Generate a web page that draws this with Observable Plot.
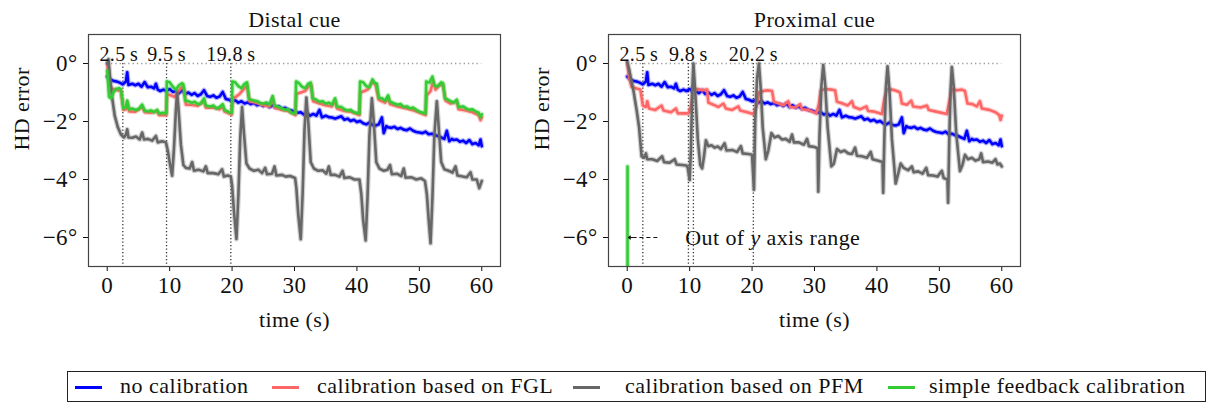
<!DOCTYPE html>
<html>
<head>
<meta charset="utf-8">
<script src="https://cdn.jsdelivr.net/npm/d3@7"></script>
<script src="https://cdn.jsdelivr.net/npm/@observablehq/plot@0.6"></script>
<style>
  html, body { margin: 0; padding: 0; background: #fff; }
  body { width: 1209px; height: 405px; position: relative; overflow: hidden; font-family: "Liberation Serif", "DejaVu Serif", serif; }
  .panel { position: absolute; top: 0; }
  #legend { position: absolute; left: 67px; top: 371px; width: 1139px; height: 31px; border: 1px solid #222; box-sizing: border-box; font-size: 22px; letter-spacing: 0.5px; color: #111; }
  .sw { position: absolute; top: 14px; width: 27px; height: 3px; }
  .lt { position: absolute; top: 1px; line-height: 26px; white-space: nowrap; }
</style>
</head>
<body>
<div class="panel" id="c1" style="left:0"></div>
<div class="panel" id="c2" style="left:520px"></div>
<div id="legend"></div>
<script>
// ---------- data ----------
const seriesNames = ["no calibration", "calibration based on FGL", "calibration based on PFM", "simple feedback calibration"];
const seriesColors = ["#0000ff", "#ff6666", "#676767", "#33cc33"];
const panelTitles = ["Distal cue", "Proximal cue"];
const xTicks = [0, 10, 20, 30, 40, 50, 60];
const yTicks = [0, -2, -4, -6];
const distalEvents = [2.5, 9.5, 19.8];
const distalEventLabels = ["2.5\u2009s", "9.5\u2009s", "19.8\u2009s"];
const proximalEvents = [2.5, 9.8, 10.6, 20.2];
const proximalLabelEvents = [2.5, 9.8, 20.2];
const proximalEventLabels = ["2.5\u2009s", "9.8\u2009s", "20.2\u2009s"];
const annotationText = "Out of y axis range";

// no calibration (same in both panels): [time s, HD error deg]
const noCalib = [[0,-0.45],[0.5,-0.55],[1,-0.6],[1.5,-0.62],[2,-0.66],[2.5,-0.72],[3,-0.62],[3.2,-0.3],[3.4,-0.74],[4,-0.7],[4.5,-0.75],[5,-0.7],[5.5,-0.8],[6,-0.64],[6.5,-0.82],[7,-0.8],[7.5,-0.86],[7.8,-0.7],[8.1,-0.9],[8.5,-0.95],[9,-0.9],[9.5,-0.95],[10,-0.88],[10.5,-0.98],[11,-0.95],[11.5,-1.02],[12,-0.92],[12.5,-1.05],[13,-1.0],[13.5,-1.08],[14,-1.02],[14.5,-1.12],[15,-1.06],[15.5,-0.92],[16,-1.12],[16.5,-1.15],[17,-1.1],[17.5,-1.18],[18,-1.14],[18.5,-0.98],[19,-1.22],[19.5,-1.25],[20,-1.3],[20.5,-1.27],[21,-1.35],[21.5,-1.3],[22,-1.38],[22.5,-1.34],[23,-1.4],[23.5,-1.36],[24,-1.44],[24.5,-1.4],[25,-1.46],[25.5,-1.38],[26,-1.5],[26.5,-1.44],[27,-1.52],[27.5,-1.48],[28,-1.56],[28.5,-1.53],[29,-1.6],[29.5,-1.62],[30,-1.66],[30.5,-1.7],[31,-1.68],[31.5,-1.76],[32,-1.72],[32.5,-1.8],[33,-1.74],[33.5,-1.8],[34,-1.6],[34.4,-1.86],[35,-1.8],[35.5,-1.85],[36,-1.86],[36.5,-1.9],[37,-1.86],[37.5,-1.82],[38,-1.94],[38.5,-1.9],[39,-1.98],[39.5,-1.94],[40,-2.02],[40.5,-1.98],[41,-2.06],[41.5,-2.1],[42,-2.04],[42.5,-2.12],[43,-2.14],[43.5,-2.1],[44,-1.86],[44.3,-2.4],[44.7,-2.16],[45,-2.2],[45.5,-2.22],[46,-2.18],[46.5,-2.26],[47,-2.22],[47.5,-2.28],[48,-2.3],[48.5,-2.24],[49,-2.32],[49.5,-2.36],[50,-2.38],[50.5,-2.4],[51,-2.35],[51.5,-2.44],[52,-2.42],[52.5,-2.47],[53,-2.5],[53.5,-2.55],[54,-2.6],[54.4,-2.32],[54.8,-2.68],[55.2,-2.6],[55.5,-2.64],[56,-2.62],[56.5,-2.7],[57,-2.66],[57.5,-2.74],[58,-2.64],[58.5,-2.78],[59,-2.74],[59.5,-2.82],[59.8,-2.62],[60,-2.85]];

// Distal cue
const fglDistal = [[0,0.0],[0.3,-0.6],[0.6,-0.85],[1.2,-0.9],[2.2,-0.95],[2.6,-1.6],[3.0,-1.58],[3.2,-1.35],[3.5,-1.65],[4.5,-1.66],[5.6,-1.5],[6,-1.68],[7,-1.7],[8,-1.65],[8.3,-1.78],[9.45,-1.78],[9.6,-1.05],[10.2,-1.1],[10.8,-1.15],[11.4,-0.95],[12.0,-0.8],[12.3,-0.85],[12.6,-1.42],[13.5,-1.42],[14.5,-1.46],[15.5,-1.3],[15.8,-1.52],[17,-1.52],[18,-1.58],[18.5,-1.48],[18.8,-1.66],[19.95,-1.76],[20.1,-1.2],[20.6,-1.15],[21.2,-1.05],[21.8,-0.9],[22.4,-0.75],[22.8,-1.3],[24,-1.36],[25,-1.44],[26,-1.48],[26.5,-1.2],[26.8,-1.52],[28,-1.6],[29,-1.64],[30.15,-1.78],[30.3,-1.05],[31,-1.0],[31.7,-0.95],[32.3,-0.78],[32.7,-0.75],[33.0,-1.3],[34,-1.38],[35,-1.44],[36,-1.48],[36.5,-1.28],[36.8,-1.55],[38,-1.64],[39,-1.66],[40.4,-1.78],[40.55,-1.0],[41.2,-0.95],[41.8,-0.88],[42.5,-0.62],[43.0,-0.75],[43.5,-1.25],[44.5,-1.35],[45,-1.2],[45.3,-1.4],[46.5,-1.48],[48,-1.55],[49.5,-1.65],[51,-1.78],[51.15,-1.1],[51.8,-0.95],[52.2,-0.6],[52.6,-0.9],[53.2,-0.75],[53.8,-0.75],[54.2,-1.28],[55,-1.38],[56,-1.32],[56.3,-1.58],[57.5,-1.62],[58.5,-1.68],[59.5,-1.78],[59.8,-1.95],[60,-1.85]];
const pfmDistal = [[0,0.0],[0.2,0.15],[0.5,-0.6],[0.8,-1.2],[1.2,-1.8],[1.7,-2.2],[2.2,-2.45],[2.7,-2.55],[3.0,-2.45],[3.2,-2.27],[3.4,-2.55],[4,-2.56],[4.6,-2.52],[5.2,-2.62],[5.6,-2.38],[5.9,-2.62],[6.5,-2.6],[7.2,-2.66],[7.8,-2.5],[8.1,-2.72],[8.8,-2.68],[9.4,-2.72],[9.7,-3.0],[10.0,-3.4],[10.4,-3.87],[10.7,-2.9],[11.0,-1.6],[11.2,-1.0],[11.4,-1.5],[11.8,-2.8],[12.2,-3.5],[12.6,-3.6],[13.2,-3.62],[13.6,-3.4],[13.9,-3.7],[14.6,-3.66],[15.4,-3.72],[15.8,-3.55],[16.1,-3.78],[17,-3.78],[17.8,-3.82],[18.4,-3.65],[18.7,-3.9],[19.3,-3.86],[19.8,-3.9],[20.0,-4.2],[20.3,-5.1],[20.7,-6.05],[21.0,-4.6],[21.3,-2.6],[21.6,-1.5],[21.9,-2.4],[22.3,-3.45],[22.8,-3.62],[23.5,-3.7],[24.2,-3.66],[24.8,-3.78],[25.3,-3.6],[25.6,-3.82],[26.4,-3.8],[26.8,-3.55],[27.1,-3.86],[28,-3.84],[28.6,-3.9],[29.3,-3.88],[30.1,-3.95],[30.3,-4.3],[30.6,-5.2],[31.0,-6.06],[31.3,-4.5],[31.6,-2.3],[31.9,-1.17],[32.2,-2.0],[32.6,-3.4],[33.1,-3.62],[33.8,-3.7],[34.5,-3.68],[35.1,-3.8],[35.5,-3.55],[35.8,-3.84],[36.5,-3.84],[37.2,-3.9],[37.7,-3.7],[38,-3.95],[38.8,-3.92],[39.6,-4.0],[40.4,-4.0],[40.7,-4.5],[41.0,-5.4],[41.4,-6.1],[41.7,-4.6],[42.0,-2.5],[42.4,-1.2],[42.7,-2.0],[43.1,-3.4],[43.6,-3.62],[44.3,-3.7],[44.9,-3.66],[45.3,-3.5],[45.6,-3.82],[46.4,-3.8],[47.1,-3.88],[47.5,-3.62],[47.8,-3.94],[48.7,-3.92],[49.5,-4.0],[50.3,-3.96],[50.9,-4.05],[51.2,-4.5],[51.5,-5.4],[51.8,-6.2],[52.1,-4.6],[52.4,-2.5],[52.8,-1.3],[53.1,-2.2],[53.5,-3.4],[54.0,-3.65],[54.7,-3.7],[55.3,-3.76],[55.8,-3.55],[56.1,-3.86],[57,-3.9],[57.6,-3.92],[58.2,-3.75],[58.5,-4.0],[59.2,-4.0],[59.6,-4.3],[60,-4.05]];
const feedbackDistal = [[0,-0.25],[0.3,-1.15],[0.6,-1.2],[1.0,-1.0],[1.4,-0.88],[1.9,-0.85],[2.2,-0.9],[2.6,-1.55],[3.0,-1.5],[3.2,-1.28],[3.5,-1.58],[4,-1.55],[4.5,-1.6],[5,-1.58],[5.6,-1.42],[6,-1.62],[6.5,-1.65],[7,-1.62],[7.5,-1.68],[8,-1.6],[8.3,-1.72],[9,-1.7],[9.45,-1.72],[9.55,-0.62],[10,-0.65],[10.5,-0.8],[11,-0.9],[11.5,-0.75],[12,-0.68],[12.2,-0.72],[12.5,-1.28],[13,-1.3],[13.5,-1.35],[14,-1.32],[14.5,-1.4],[15,-1.38],[15.5,-1.2],[15.8,-1.45],[16.5,-1.48],[17,-1.45],[17.5,-1.55],[18,-1.5],[18.5,-1.4],[18.8,-1.6],[19.5,-1.68],[19.95,-1.7],[20.05,-0.62],[20.5,-0.65],[21,-0.78],[21.5,-0.85],[22,-0.7],[22.4,-0.65],[22.7,-1.22],[23.5,-1.28],[24,-1.3],[24.5,-1.36],[25,-1.38],[25.5,-1.35],[26,-1.42],[26.5,-1.12],[26.8,-1.45],[27.5,-1.5],[28,-1.55],[28.5,-1.6],[29,-1.58],[29.5,-1.7],[30.15,-1.72],[30.25,-0.62],[30.7,-0.68],[31.2,-0.8],[31.7,-0.85],[32.2,-0.7],[32.6,-0.66],[32.9,-1.2],[33.5,-1.25],[34,-1.32],[34.5,-1.3],[35,-1.38],[35.5,-1.35],[36,-1.42],[36.5,-1.2],[36.8,-1.48],[37.5,-1.5],[38,-1.58],[38.5,-1.62],[39,-1.6],[39.5,-1.68],[40.4,-1.72],[40.5,-0.62],[41,-0.65],[41.5,-0.78],[42,-0.82],[42.5,-0.55],[42.8,-0.66],[43.2,-0.7],[43.5,-1.18],[44,-1.2],[44.5,-1.28],[45,-1.1],[45.3,-1.32],[46,-1.38],[46.5,-1.42],[47,-1.4],[47.5,-1.5],[48,-1.48],[48.5,-1.55],[49,-1.52],[49.5,-1.6],[50,-1.66],[51,-1.72],[51.1,-0.62],[51.6,-0.66],[52.1,-0.45],[52.4,-0.75],[52.9,-0.8],[53.5,-0.65],[53.8,-0.68],[54.1,-1.2],[54.6,-1.25],[55,-1.3],[55.5,-1.35],[56,-1.25],[56.3,-1.5],[57,-1.48],[57.5,-1.55],[58,-1.6],[58.5,-1.58],[59,-1.65],[59.5,-1.7],[59.8,-1.85],[60,-1.75]];

// Proximal cue
const fglProximal = [[0,0.05],[0.3,-0.5],[0.7,-0.8],[1.5,-0.86],[2.1,-0.9],[2.5,-1.45],[3.0,-1.5],[3.2,-1.3],[3.5,-1.55],[4.5,-1.6],[5.5,-1.45],[5.8,-1.62],[7,-1.68],[7.8,-1.55],[8.1,-1.72],[9.2,-1.72],[9.8,-1.72],[10.2,-1.5],[10.6,-0.95],[11.3,-0.88],[12.0,-0.92],[12.8,-0.9],[13.0,-1.35],[13.8,-1.42],[14.6,-1.5],[15.4,-1.38],[15.8,-1.55],[16.8,-1.6],[17.8,-1.48],[18.1,-1.62],[19.2,-1.68],[20.2,-1.74],[20.7,-1.5],[21.1,-1.0],[21.8,-0.95],[22.5,-0.92],[23.2,-0.95],[23.5,-1.32],[24.3,-1.38],[25,-1.44],[25.8,-1.3],[26.1,-1.5],[27,-1.52],[27.7,-1.4],[28,-1.58],[29,-1.6],[30.3,-1.72],[30.7,-1.4],[31.0,-0.92],[31.8,-0.88],[32.6,-0.9],[33.3,-0.92],[33.6,-1.32],[34.5,-1.38],[35.3,-1.45],[36,-1.3],[36.3,-1.5],[37.3,-1.58],[38.3,-1.48],[38.6,-1.64],[39.6,-1.66],[40.8,-1.74],[41.2,-1.2],[41.6,-0.88],[42.4,-0.9],[43.2,-0.95],[43.7,-1.0],[44.0,-1.38],[44.8,-1.42],[45.5,-1.28],[45.8,-1.48],[47,-1.52],[48,-1.45],[48.3,-1.6],[49.5,-1.66],[51.2,-1.74],[51.6,-1.3],[52.0,-0.88],[52.8,-0.92],[53.6,-0.9],[54.1,-0.95],[54.5,-1.38],[55.3,-1.4],[56,-1.48],[56.5,-1.3],[56.8,-1.55],[58,-1.6],[59,-1.68],[59.6,-1.78],[59.8,-1.95],[60,-1.8]];
const pfmProximal = [[0,0.05],[0.3,-0.2],[1.0,-0.94],[1.5,-1.6],[1.9,-2.2],[2.3,-3.2],[2.7,-3.25],[3.0,-3.1],[3.2,-3.3],[4,-3.3],[4.8,-3.36],[5.6,-3.2],[5.9,-3.4],[6.8,-3.42],[7.6,-3.3],[7.9,-3.48],[8.8,-3.5],[9.5,-3.52],[9.7,-3.6],[10.0,-4.02],[10.2,-3.0],[10.4,-1.0],[10.6,0.0],[10.9,-1.0],[11.3,-2.6],[11.7,-3.5],[12.0,-3.62],[12.3,-3.2],[12.6,-2.65],[13.0,-2.85],[13.5,-2.82],[14.0,-2.9],[14.5,-2.86],[15,-2.95],[15.6,-2.75],[15.9,-3.0],[16.8,-2.98],[17.6,-3.05],[18.2,-2.85],[18.5,-3.1],[19.4,-3.12],[20.0,-3.15],[20.3,-4.35],[20.5,-2.0],[20.8,-0.5],[21.1,0.0],[21.4,-0.9],[21.7,-2.2],[22.2,-3.3],[22.6,-3.0],[23.1,-2.4],[23.6,-2.55],[24.2,-2.5],[24.8,-2.62],[25.4,-2.6],[26,-2.7],[26.4,-2.45],[26.7,-2.72],[27.5,-2.72],[28.3,-2.8],[28.8,-2.6],[29.1,-2.85],[30,-2.88],[30.5,-2.92],[30.6,-4.42],[30.8,-2.5],[31.1,-0.8],[31.4,-0.05],[31.7,-0.7],[32.1,-2.2],[32.7,-3.55],[33.1,-3.45],[33.6,-2.95],[34.2,-3.05],[34.8,-3.0],[35.4,-3.1],[36,-3.12],[36.5,-2.9],[36.8,-3.18],[37.6,-3.2],[38.4,-3.25],[39,-3.05],[39.3,-3.3],[40.2,-3.35],[40.9,-3.4],[41.0,-4.46],[41.2,-2.5],[41.45,-0.8],[41.7,-0.1],[42.0,-0.9],[42.4,-2.6],[43.0,-4.14],[43.4,-3.8],[43.8,-3.45],[44.3,-3.6],[45,-3.68],[45.6,-3.55],[45.9,-3.75],[46.6,-3.72],[47.3,-3.8],[47.9,-3.6],[48.2,-3.85],[49,-3.86],[49.7,-3.9],[50.4,-3.7],[50.7,-3.95],[51.3,-4.0],[51.4,-4.8],[51.6,-2.5],[51.8,-0.9],[52.0,-0.12],[52.3,-0.8],[52.7,-2.4],[53.3,-3.71],[53.7,-3.5],[54.1,-3.15],[54.6,-3.3],[55.2,-3.25],[55.8,-3.35],[56.4,-3.3],[56.7,-3.1],[57,-3.4],[57.8,-3.38],[58.5,-3.42],[59,-3.3],[59.3,-3.48],[59.7,-3.45],[60,-3.55]];
const feedbackProximal = [[0.05,-3.55],[0.06,-40]];

// ---------- drawing ----------
const fmtDeg = d => (d < 0 ? "\u2212" + Math.abs(d) : String(d)) + "\u00b0";

function panel({title, series, events, labelEvents, labels, annotate}) {
  const labelData = labelEvents.map((x, i) => ({x, text: labels[i]}));
  const marks = [
    Plot.ruleY([0], {x1: 0, x2: 60, stroke: "#9a9a9a", strokeWidth: 1.3, strokeDasharray: "1.3,3"}),
    Plot.ruleX(events, {x: d => d, y1: 0, y2: -7, stroke: "#333", strokeWidth: 1.3, strokeDasharray: "1.3,2.2"})
  ];
  series.forEach((data, i) => {
    // soft halo mimicking the noise band, then the core line
    marks.push(Plot.line(data, {x: d => d[0], y: d => d[1], stroke: seriesColors[i], strokeWidth: 5, strokeOpacity: 0.3, strokeLinejoin: "round", clip: true}));
    marks.push(Plot.line(data, {x: d => d[0], y: d => d[1], stroke: seriesColors[i], strokeWidth: 2.6, strokeLinejoin: "round", clip: true}));
  });
  marks.push(
    Plot.text(labelData.slice(0, 1), {x: "x", y: 0, text: "text", lineAnchor: "bottom", dy: -3, dx: -4, fontSize: 20}),
    Plot.text(labelData.slice(1), {x: "x", y: 0, text: "text", lineAnchor: "bottom", dy: -3, fontSize: 20}),
    Plot.frame({stroke: "#444", strokeWidth: 1.2}),
    Plot.text([title], {frameAnchor: "top", lineAnchor: "bottom", dy: -8, fontSize: 22}),
    Plot.text(["time (s)"], {frameAnchor: "bottom", lineAnchor: "bottom", dy: 60, fontSize: 22}),
    Plot.text(["HD error"], {frameAnchor: "left", rotate: -90, dx: -67, fontSize: 22})
  );
  if (annotate) {
    marks.push(
      Plot.ruleY([-6], {x1: 0.9, x2: 5, stroke: "#111", strokeWidth: 1.2, strokeDasharray: "4,3"}),
      Plot.arrow([{x1: 1.4, x2: 0.2, y: -6}], {x1: "x1", x2: "x2", y1: "y", y2: "y", stroke: "#111", strokeWidth: 1.2, headLength: 7, headAngle: 70}),
      Plot.text([annotationText], {x: 9.3, y: -6, textAnchor: "start", fontSize: 22})
    );
  }
  const svg = Plot.plot({
    width: 520, height: 340,
    marginLeft: 88, marginRight: 20, marginTop: 34, marginBottom: 74,
    style: {fontFamily: "'Liberation Serif', 'DejaVu Serif', serif", fontSize: "23px", color: "#111", background: "white", letterSpacing: "0.4px"},
    x: {domain: [-3, 63], ticks: xTicks, tickSize: 5, tickPadding: 5, label: null},
    y: {domain: [-7, 1], ticks: yTicks, tickFormat: fmtDeg, tickSize: 5, tickPadding: 6, label: null},
    marks
  });
  d3.select(svg).selectAll("text").filter(function() { return this.textContent === annotationText; })
    .html('Out of <tspan font-style="italic">y</tspan> axis range');
  return svg;
}

document.getElementById("c1").appendChild(panel({
  title: panelTitles[0],
  series: [noCalib, fglDistal, pfmDistal, feedbackDistal],
  events: distalEvents, labelEvents: distalEvents, labels: distalEventLabels, annotate: false
}));
document.getElementById("c2").appendChild(panel({
  title: panelTitles[1],
  series: [noCalib, fglProximal, pfmProximal, feedbackProximal],
  events: proximalEvents, labelEvents: proximalLabelEvents, labels: proximalEventLabels, annotate: true
}));

// legend
const legend = document.getElementById("legend");
const swLeft = [7, 204, 505, 820];
const txLeft = [52, 249, 557, 861];
seriesNames.forEach((name, i) => {
  const sw = document.createElement("div");
  sw.className = "sw"; sw.style.left = swLeft[i] + "px"; sw.style.background = seriesColors[i];
  legend.appendChild(sw);
  const tx = document.createElement("div");
  tx.className = "lt"; tx.style.left = txLeft[i] + "px"; tx.textContent = name;
  legend.appendChild(tx);
});
</script>
</body>
</html>
